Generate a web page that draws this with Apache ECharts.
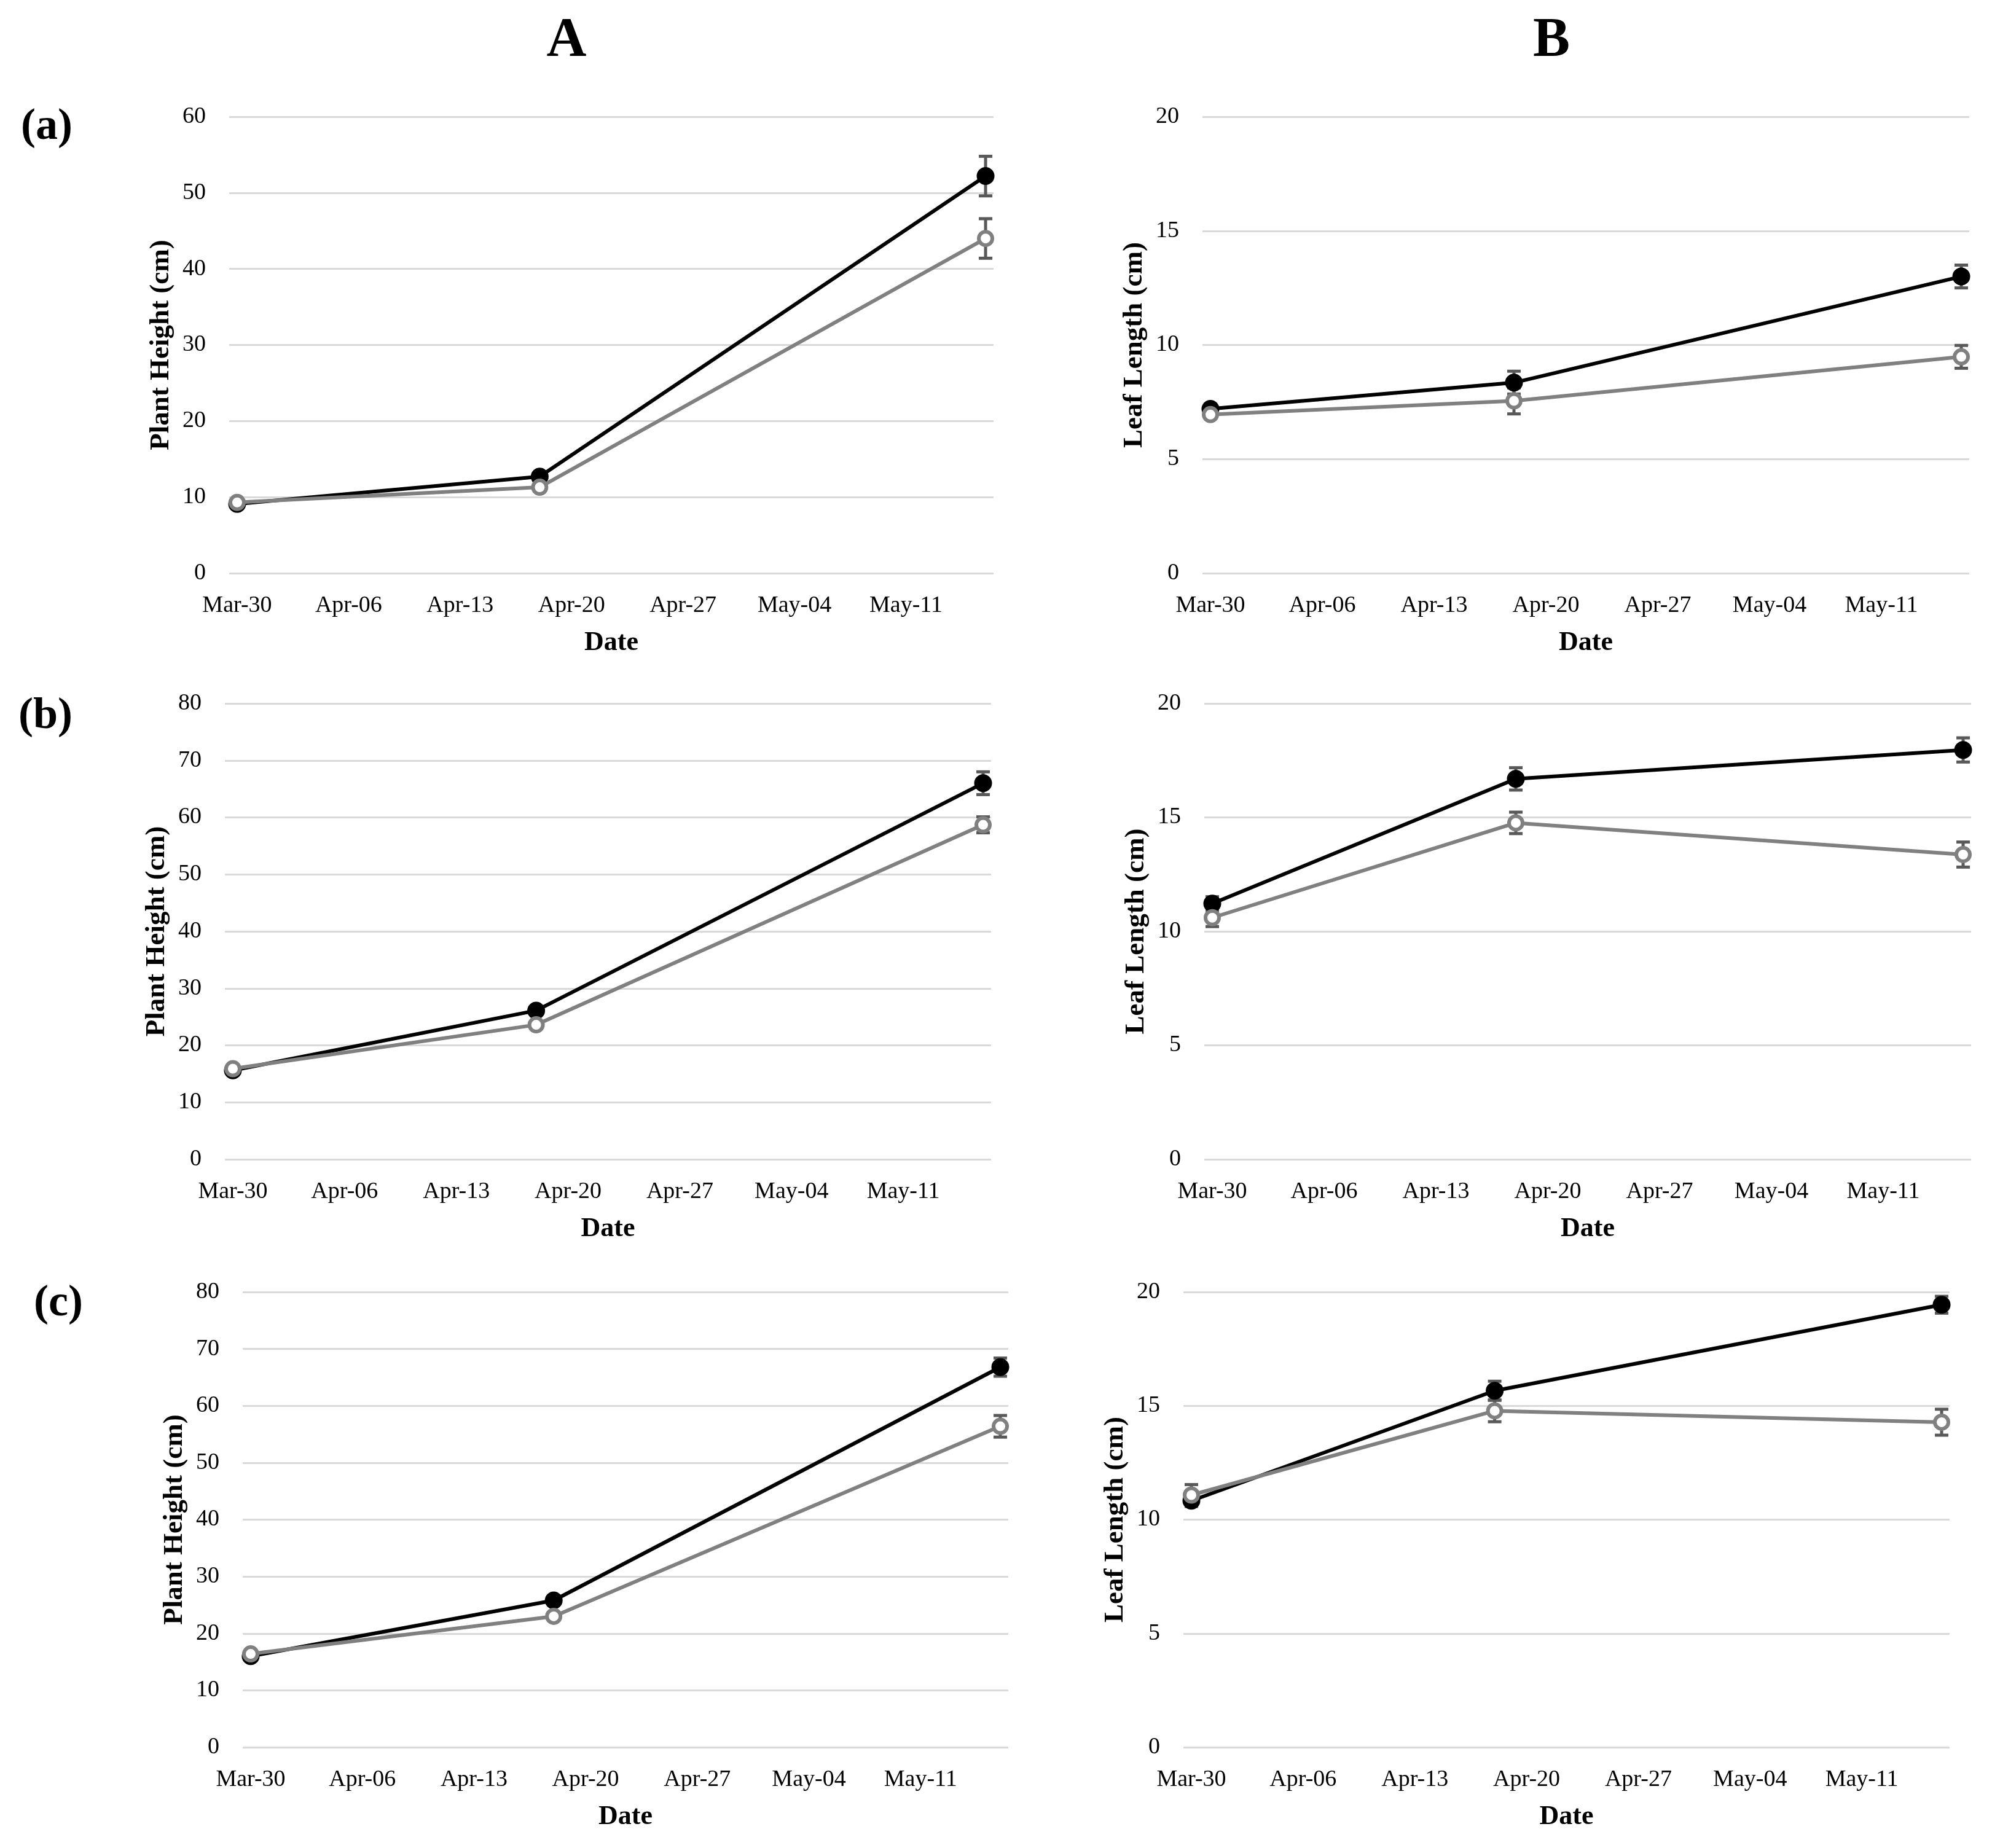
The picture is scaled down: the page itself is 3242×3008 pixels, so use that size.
<!DOCTYPE html>
<html>
<head>
    <meta charset="utf-8"/>
    <style>
        html, body {
            margin: 0;
            padding: 0;
            background: #ffffff;
        }

        #main {
            width: 3242px;
            height: 3008px;
        }
    </style>
</head>
<body>
<div id="main"></div>
<script src="https://cdn.jsdelivr.net/npm/echarts@6/dist/echarts.min.js"></script>
<script type="text/javascript">
    // sampling dates and x tick labels
    var dates = ['03-30', '04-18', '05-16'];
    var xTickLabels = ['Mar-30', 'Apr-06', 'Apr-13', 'Apr-20', 'Apr-27', 'May-04', 'May-11'];

    // row (a)
    var aHeightBlack = [9.1, 12.7, 52.2];
    var aHeightBlackErr = [0.3, 0.5, 2.6];
    var aHeightGray = [9.3, 11.3, 44.0];
    var aHeightGrayErr = [0.3, 0.4, 2.6];
    var aLeafBlack = [7.2, 8.35, 13.0];
    var aLeafBlackErr = [0.15, 0.5, 0.5];
    var aLeafGray = [6.95, 7.55, 9.48];
    var aLeafGrayErr = [0.15, 0.57, 0.5];

    // row (b)
    var bHeightBlack = [15.6, 26.1, 66.0];
    var bHeightBlackErr = [0.5, 0.6, 2.0];
    var bHeightGray = [15.9, 23.6, 58.7];
    var bHeightGrayErr = [0.5, 0.5, 1.4];
    var bLeafBlack = [11.22, 16.69, 17.96];
    var bLeafBlackErr = [0.3, 0.49, 0.53];
    var bLeafGray = [10.6, 14.76, 13.37];
    var bLeafGrayErr = [0.39, 0.47, 0.55];

    // row (c)
    var cHeightBlack = [16.0, 25.8, 66.8];
    var cHeightBlackErr = [0.4, 0.5, 1.6];
    var cHeightGray = [16.4, 23.0, 56.4];
    var cHeightGrayErr = [0.4, 0.5, 1.9];
    var cLeafBlack = [10.83, 15.66, 19.44];
    var cLeafBlackErr = [0.25, 0.42, 0.37];
    var cLeafGray = [11.08, 14.78, 14.28];
    var cLeafGrayErr = [0.46, 0.48, 0.57];

    var FONT = "'Liberation Serif', 'Times New Roman', serif";
    var DAY = 86400000;
    var START = Date.UTC(2019, 2, 30);

    function dayOf(s) {
        var p = s.split('-');
        return Math.round((Date.UTC(2019, +p[0] - 1, +p[1]) - START) / DAY);
    }

    var days = dates.map(dayOf);

    // panel layout (grid boxes)
    var panels = [
        {grid: {left: 373, top: 190, width: 1244, height: 743}, yName: 'Plant Height (cm)', max: 60, interval: 10,
            black: aHeightBlack, blackErr: aHeightBlackErr, gray: aHeightGray, grayErr: aHeightGrayErr},
        {grid: {left: 1957, top: 190, width: 1248, height: 743}, yName: 'Leaf Length (cm)', max: 20, interval: 5,
            black: aLeafBlack, blackErr: aLeafBlackErr, gray: aLeafGray, grayErr: aLeafGrayErr},
        {grid: {left: 366, top: 1145, width: 1247, height: 742}, yName: 'Plant Height (cm)', max: 80, interval: 10,
            black: bHeightBlack, blackErr: bHeightBlackErr, gray: bHeightGray, grayErr: bHeightGrayErr},
        {grid: {left: 1960, top: 1145, width: 1248, height: 742}, yName: 'Leaf Length (cm)', max: 20, interval: 5,
            black: bLeafBlack, blackErr: bLeafBlackErr, gray: bLeafGray, grayErr: bLeafGrayErr},
        {grid: {left: 395, top: 2103, width: 1246, height: 741}, yName: 'Plant Height (cm)', max: 80, interval: 10,
            black: cHeightBlack, blackErr: cHeightBlackErr, gray: cHeightGray, grayErr: cHeightGrayErr},
        {grid: {left: 1926, top: 2103, width: 1247, height: 741}, yName: 'Leaf Length (cm)', max: 20, interval: 5,
            black: cLeafBlack, blackErr: cLeafBlackErr, gray: cLeafGray, grayErr: cLeafGrayErr}
    ];

    function pairs(vals) {
        return vals.map(function (v, i) { return [days[i], v]; });
    }

    function errData(vals, errs) {
        return vals.map(function (v, i) { return [days[i], v, errs[i]]; });
    }

    // error bar with caps
    function renderErr(params, api) {
        var x = api.value(0), y = api.value(1), e = api.value(2);
        var top = api.coord([x, y + e]);
        var bot = api.coord([x, y - e]);
        var half = 11;
        var st = {stroke: '#595959', lineWidth: 5};
        return {
            type: 'group',
            children: [
                {type: 'line', shape: {x1: top[0], y1: top[1], x2: bot[0], y2: bot[1]}, style: st},
                {type: 'line', shape: {x1: top[0] - half, y1: top[1], x2: top[0] + half, y2: top[1]}, style: st},
                {type: 'line', shape: {x1: bot[0] - half, y1: bot[1], x2: bot[0] + half, y2: bot[1]}, style: st}
            ]
        };
    }

    var option = {
        animation: false,
        backgroundColor: '#ffffff',
        grid: [],
        xAxis: [],
        yAxis: [],
        series: [],
        graphic: []
    };

    panels.forEach(function (p, i) {
        var g = p.grid;
        g.outerBoundsMode = 'none';
        g.containLabel = false;
        option.grid.push(g);

        option.xAxis.push({
            type: 'value',
            gridIndex: i,
            min: -0.5,
            max: 47.5,
            name: 'Date',
            nameLocation: 'middle',
            nameGap: 92,
            nameTextStyle: {fontFamily: FONT, fontSize: 44, fontWeight: 'bold', color: '#000'},
            axisLine: {show: false},
            axisTick: {show: false},
            splitLine: {show: false},
            axisLabel: {
                customValues: xTickLabels.map(function (s, k) { return k * 7; }),
                formatter: function (v) { return xTickLabels[Math.round(v / 7)] || ''; },
                fontFamily: FONT,
                fontSize: 38,
                color: '#000',
                margin: 34
            }
        });

        option.yAxis.push({
            type: 'value',
            gridIndex: i,
            min: 0,
            max: p.max,
            interval: p.interval,
            name: p.yName,
            nameLocation: 'middle',
            nameGap: 88,
            nameTextStyle: {fontFamily: FONT, fontSize: 45, fontWeight: 'bold', color: '#000'},
            axisLine: {show: false},
            axisTick: {show: false},
            splitLine: {show: true, lineStyle: {color: '#d9d9d9', width: 3}},
            axisLabel: {fontFamily: FONT, fontSize: 38, color: '#000', margin: 38}
        });

        option.series.push({
            type: 'custom',
            xAxisIndex: i,
            yAxisIndex: i,
            z: 1,
            renderItem: renderErr,
            data: errData(p.black, p.blackErr)
        });
        option.series.push({
            type: 'custom',
            xAxisIndex: i,
            yAxisIndex: i,
            z: 1,
            renderItem: renderErr,
            data: errData(p.gray, p.grayErr)
        });
        option.series.push({
            type: 'line',
            xAxisIndex: i,
            yAxisIndex: i,
            z: 3,
            symbol: 'circle',
            symbolSize: 29,
            lineStyle: {color: '#000000', width: 6},
            itemStyle: {color: '#000000'},
            data: pairs(p.black)
        });
        option.series.push({
            type: 'line',
            xAxisIndex: i,
            yAxisIndex: i,
            z: 4,
            symbol: 'circle',
            symbolSize: 22,
            lineStyle: {color: '#808080', width: 6},
            itemStyle: {color: '#ffffff', borderColor: '#808080', borderWidth: 6},
            data: pairs(p.gray)
        });
    });

    // column headers and row tags
    var tags = [
        {text: 'A', x: 922, y: 68, size: 90},
        {text: 'B', x: 2525, y: 68, size: 90},
        {text: '(a)', x: 76, y: 207, size: 72},
        {text: '(b)', x: 74, y: 1166, size: 72},
        {text: '(c)', x: 95, y: 2122, size: 72}
    ];
    tags.forEach(function (t) {
        option.graphic.push({
            type: 'text',
            x: t.x,
            y: t.y,
            style: {
                text: t.text,
                fontFamily: FONT,
                fontSize: t.size,
                fontWeight: 'bold',
                fill: '#000',
                align: 'center',
                verticalAlign: 'middle'
            }
        });
    });

    var myChart = echarts.init(document.getElementById('main'));
    myChart.setOption(option);
</script>
</body>
</html>
